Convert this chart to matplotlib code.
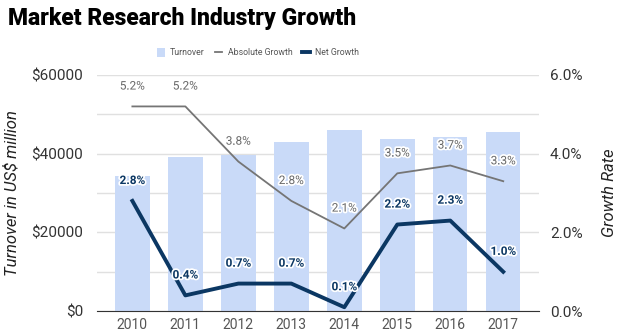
import matplotlib.pyplot as plt
from matplotlib import patheffects as pe

years = ['2010', '2011', '2012', '2013', '2014', '2015', '2016', '2017']
turnover = [34300, 39200, 39600, 42900, 45900, 43700, 44200, 45500]
absolute_growth = [5.2, 5.2, 3.8, 2.8, 2.1, 3.5, 3.7, 3.3]
net_growth = [2.8, 0.4, 0.7, 0.7, 0.1, 2.2, 2.3, 1.0]

plt.rcParams['font.family'] = ['Roboto', 'DejaVu Sans']

fig = plt.figure(figsize=(6.25, 3.36), dpi=100)
ax = fig.add_axes([0.155, 0.074, 0.707, 0.703])
ax2 = ax.twinx()

x = range(len(years))
ax.bar(x, turnover, width=0.65, color='#c9daf8', zorder=2, label='Turnover')
ax.set_ylim(0, 60000)
ax.set_xlim(-0.67, 7.67)
ax.set_yticks([0, 20000, 40000, 60000])
ax.set_yticklabels(['$0', '$20000', '$40000', '$60000'])
ax.set_yticks([10000, 30000, 50000], minor=True)
ax.grid(axis='y', which='both', color='#e0e0e0', lw=1, zorder=0)
ax.set_xticks(list(x))
ax.set_xticklabels(years)
ax.tick_params(axis='y', length=0, labelsize=11, colors='#333333', pad=10)
ax.tick_params(axis='y', which='minor', length=0)
ax.tick_params(axis='x', length=0, labelsize=10, colors='#555555', pad=5)
ax.set_ylabel('Turnover in US$ million', fontsize=12, style='italic', color='#222222', labelpad=8)
for s in ['top', 'right', 'left']:
    ax.spines[s].set_visible(False)
ax.spines['bottom'].set_color('#333333')
ax.set_axisbelow(True)

ax2.plot(x, absolute_growth, color='#757575', lw=1.3, label='Absolute Growth', zorder=3)
ax2.plot(x, net_growth, color='#0b3763', lw=2.8, label='Net Growth', zorder=3)
ax2.set_ylim(0, 6)
ax2.set_yticks([0, 2, 4, 6])
ax2.set_yticklabels(['0.0%', '2.0%', '4.0%', '6.0%'])
ax2.tick_params(axis='y', length=0, labelsize=11, colors='#333333', pad=8)
ax2.set_ylabel('Growth Rate', fontsize=12, style='italic', color='#222222', labelpad=14)
for s in ['top', 'right', 'left', 'bottom']:
    ax2.spines[s].set_visible(False)

stroke = [pe.withStroke(linewidth=2.5, foreground='white')]
for i, v in enumerate(absolute_growth):
    ax2.annotate(f'{v:.1f}%', (i, v), xytext=(0, 10), textcoords='offset points',
                 ha='center', va='bottom', fontsize=8.5, color='#666666',
                 path_effects=stroke, zorder=4)
for i, v in enumerate(net_growth):
    ax2.annotate(f'{v:.1f}%', (i, v), xytext=(0, 10), textcoords='offset points',
                 ha='center', va='bottom', fontsize=8.5, color='#0b3763',
                 fontweight='bold', path_effects=stroke, zorder=4)

h1, l1 = ax.get_legend_handles_labels()
h2, l2 = ax2.get_legend_handles_labels()
fig.legend(h1 + h2, l1 + l2, loc='center', bbox_to_anchor=(0.413, 0.843), ncol=3,
           frameon=False, fontsize=6.3, labelcolor='#555555', handlelength=0.9,
           handleheight=1.1, columnspacing=1.1, handletextpad=0.6)

fig.text(0.012, 0.945, 'Market Research Industry Growth', fontsize=16.5,
         fontweight='black', va='center', ha='left', color='black')

fig.savefig('out.png', dpi=100)
